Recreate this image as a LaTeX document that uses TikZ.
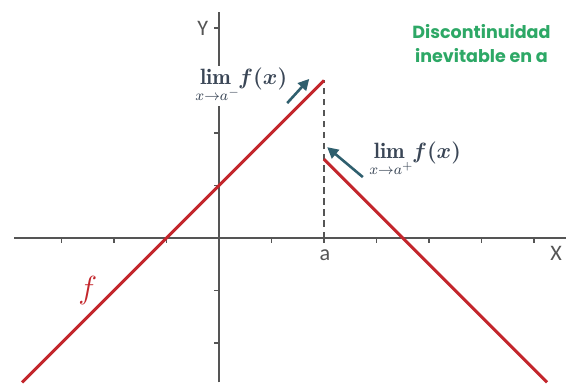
\documentclass[tikz,border=0pt]{standalone}
\usepackage{fontspec}
\usepackage{amsmath}
\usepackage{mathtools}
\usetikzlibrary{arrows.meta}
\newfontfamily\carl{Carlito}
\newfontfamily\gfont{Poppins}
\definecolor{axisgray}{HTML}{555555}
\definecolor{fred}{HTML}{C3262C}
\definecolor{tealarrow}{HTML}{2F5F6E}
\definecolor{limtext}{HTML}{3A4656}
\definecolor{greentext}{HTML}{2DA866}
\newcommand{\mylimminus}{\ensuremath{\displaystyle\mathop{\mathbf{lim}}\limits_{\mathclap{\;x\to a^{-}}}\,\boldsymbol{f(x)}}}
\newcommand{\mylimplus}{\ensuremath{\displaystyle\mathop{\mathbf{lim}}\limits_{\mathclap{\;x\to a^{+}}}\,\boldsymbol{f(x)}}}
\tikzset{
  axisline/.style={draw=axisgray, line width=0.8pt},
  tickmark/.style={draw=axisgray, line width=0.8pt},
  graphline/.style={draw=fred, line width=1.6pt},
  axislabel/.style={font=\carl\fontsize{12}{14}\selectfont, text=axisgray, inner sep=1pt},
  limlabel/.style={font=\fontsize{12}{15}\selectfont, text=limtext, inner sep=1.5pt},
  limarrow/.style={draw=tealarrow, line width=1.4pt, -{Triangle[length=6pt,width=6pt]}},
  note/.style={font=\gfont\bfseries\fontsize{9.5}{13}\selectfont, text=greentext, align=center, inner sep=0pt}
}
\begin{document}
\begin{tikzpicture}[x=1cm,y=1cm]
\useasboundingbox (-4.171,-2.8) rectangle (6.610,4.533);
% axes
\coordinate (xl) at (-3.9,0);
\coordinate (xr) at (6.61,0);
\coordinate (yb) at (0,-2.75);
\coordinate (yt) at (0,4.3);
\draw[axisline] (xl) -- (xr);
\draw[axisline] (yb) -- (yt);
% ticks
\foreach \t in {-3,-2,-1,1,2,3,4,5,6} \draw[tickmark] (\t,0) -- (\t,-0.1);
\foreach \t in {-2,-1,1,2,3,4} \draw[tickmark] (0,\t) -- (-0.1,\t);
% dashed line at a
\coordinate (a0) at (2,0);
\coordinate (a3) at (2,3);
\draw[draw=axisgray, line width=0.7pt, dash pattern=on 3.5pt off 2.5pt] (a0) -- (a3);
% graph
\coordinate (L0) at (-3.75,-2.75);
\coordinate (L1) at (2,3);
\coordinate (R0) at (2,1.5);
\coordinate (R1) at (6.25,-2.75);
\draw[graphline] (L0) -- (L1);
\draw[graphline] (R0) -- (R1);
% labels
\node[axislabel] (ylab) at (-0.31,4.0) {Y};
\node[axislabel] (xlab) at (6.42,-0.29) {X};
\node[axislabel] (alab) at (2.02,-0.32) {a};
\node[font=\fontsize{17}{19}\selectfont, text=fred] (flab) at (-2.5,-1.0) {$f$};
\node[limlabel, fill=white] (lim1) at (0.47,2.9) {\mylimminus};
\node[limlabel] (lim2) at (3.78,1.5) {\mylimplus};
% arrows
\coordinate (a1s) at (1.30,2.57);
\coordinate (a1e) at (1.72,3.03);
\coordinate (a2s) at (2.74,1.16);
\coordinate (a2e) at (2.06,1.73);
\draw[limarrow] (a1s) -- (a1e);
\draw[limarrow] (a2s) -- (a2e);
% note
\node[note] (note) at (5.0,3.71) {Discontinuidad\\inevitable en a};
\end{tikzpicture}
\end{document}
